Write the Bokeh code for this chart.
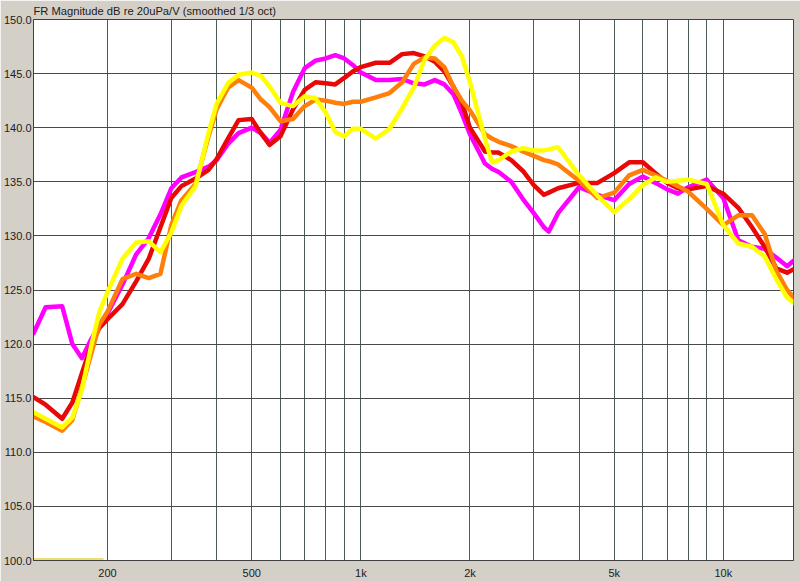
from bokeh.plotting import figure
from bokeh.models import Range1d, FixedTicker, PrintfTickFormatter
from bokeh.embed import file_html
from bokeh.resources import INLINE

title_text = "FR Magnitude dB re 20uPa/V (smoothed 1/3 oct)"

freq = [125, 135, 150, 160, 170, 180, 190, 200, 220, 240, 260, 280, 300, 320, 350, 380, 400, 430, 460,
        500, 530, 560, 600, 650, 700, 750, 800, 850, 900, 950, 1000, 1100, 1200, 1300, 1400, 1500, 1600,
        1700, 1800, 1900, 2000, 2200, 2300, 2400, 2600, 2800, 3000, 3200, 3300, 3500, 4000, 4500, 5000,
        5500, 6000, 6500, 7000, 7500, 8000, 9000, 10000, 11000, 12000, 13000, 14000, 15000, 16000]

magenta_db = [121.0, 123.4, 123.5, 120.0, 118.7, 120.4, 121.8, 122.8, 125.5, 128.3, 129.8, 132.0, 134.4,
              135.4, 135.9, 136.4, 137.0, 138.5, 139.5, 140.0, 139.5, 138.6, 139.8, 143.3, 145.5, 146.2,
              146.4, 146.7, 146.4, 145.8, 145.1, 144.4, 144.4, 144.5, 144.1, 144.0, 144.4, 144.0, 143.1,
              141.3, 139.4, 136.7, 136.2, 135.9, 135.0, 133.4, 132.1, 130.8, 130.4, 132.1, 134.5, 133.8,
              133.3, 134.8, 135.5, 134.9, 134.3, 133.9, 134.5, 135.2, 133.5, 129.6, 129.0, 128.8, 128.0,
              127.2, 128.0]

red_db = [115.1, 114.4, 113.1, 114.6, 117.3, 119.8, 121.5, 122.3, 123.7, 125.8, 127.9, 130.8, 133.5,
          134.6, 135.3, 136.1, 137.1, 139.0, 140.7, 140.8, 139.5, 138.4, 139.2, 141.7, 143.5, 144.2,
          144.1, 144.0, 144.6, 145.2, 145.6, 146.0, 146.0, 146.8, 146.9, 146.6, 146.1, 145.2, 143.8,
          142.3, 140.0, 137.8, 137.7, 137.7, 137.0, 136.0, 134.7, 133.8, 134.0, 134.4, 134.9, 134.9,
          135.8, 136.8, 136.8, 135.8, 134.9, 134.4, 134.3, 134.6, 133.9, 132.6, 130.8, 129.0, 127.0,
          126.6, 127.1]

orange_db = [113.3, 112.8, 112.0, 113.0, 116.0, 119.0, 121.8, 123.0, 126.0, 126.5, 126.1, 126.5, 131.0,
             133.3, 134.8, 139.2, 141.7, 143.7, 144.4, 143.7, 142.6, 141.9, 140.6, 140.8, 142.0, 142.6,
             142.5, 142.3, 142.2, 142.4, 142.4, 142.8, 143.2, 144.2, 145.9, 146.5, 146.4, 145.6, 143.8,
             142.5, 141.6, 139.4, 139.0, 138.7, 138.3, 137.8, 137.4, 137.0, 136.9, 136.6, 135.1, 133.5,
             134.0, 135.6, 136.1, 135.6, 135.1, 134.6, 134.1, 132.5, 131.0, 131.9, 131.9, 130.2, 126.8,
             125.0, 123.9]

yellow_db = [113.7, 113.1, 112.3, 113.2, 115.8, 119.7, 123.0, 124.8, 127.9, 129.4, 129.5, 128.5, 130.3,
             132.8, 134.6, 139.5, 142.2, 144.1, 144.9, 145.1, 144.8, 143.8, 142.3, 142.0, 142.9, 142.7,
             141.4, 139.6, 139.2, 139.9, 139.9, 139.0, 139.9, 141.8, 143.7, 146.3, 147.6, 148.3, 147.9,
             146.6, 144.2, 139.0, 136.8, 137.0, 137.8, 138.1, 137.9, 137.9, 138.0, 138.2, 135.6, 133.7,
             132.2, 133.4, 134.7, 135.4, 135.0, 135.1, 135.2, 134.8, 131.0, 129.3, 129.0, 128.1, 126.0,
             124.3, 123.6]

floor_freq = [125, 195]
floor_db = [100.15, 100.15]

series_colors = ["#ff00ff", "#e80808", "#ff7f0a", "#ffff00"]

x_label_ticks = [200, 500, 1000, 2000, 5000, 10000]
x_label_texts = ["200", "500", "1k", "2k", "5k", "10k"]
x_minor_ticks = [300, 400, 600, 700, 800, 900, 3000, 4000, 6000, 7000, 8000, 9000]
y_ticks = [100, 105, 110, 115, 120, 125, 130, 135, 140, 145, 150]

p = figure(width=800, height=581, x_axis_type="log",
           x_range=Range1d(125, 15620), y_range=Range1d(100, 150),
           output_backend="svg", toolbar_location=None,
           min_border_left=33, min_border_right=7, min_border_top=0, min_border_bottom=21,
           title=title_text)

p.background_fill_color = "white"
p.border_fill_color = "#d4d0c8"
p.outline_line_color = "#404040"

p.title.text_font = "Liberation Sans"
p.title.text_font_size = "11.2px"
p.title.text_font_style = "normal"
p.title.text_color = "#202020"
p.title.align = "left"
p.title.standoff = 5
p.title.offset = 0

p.xaxis.ticker = FixedTicker(ticks=x_label_ticks, minor_ticks=x_minor_ticks)
p.xaxis.major_label_overrides = dict(zip(x_label_ticks, x_label_texts))
p.yaxis.ticker = FixedTicker(ticks=y_ticks)
p.yaxis.formatter = PrintfTickFormatter(format="%.1f")

for ax in (p.xaxis, p.yaxis):
    ax.major_tick_line_color = None
    ax.minor_tick_line_color = None
    ax.major_tick_out = 0
    ax.major_tick_in = 0
    ax.minor_tick_out = 0
    ax.minor_tick_in = 0
    ax.axis_line_color = "#404040"
    ax.major_label_text_font = "Liberation Sans"
    ax.major_label_text_font_size = "11px"
    ax.major_label_text_color = "#202020"
p.xaxis.major_label_standoff = 6
p.yaxis.major_label_standoff = 2

p.xgrid.grid_line_color = "#4c5c54"
p.xgrid.minor_grid_line_color = "#4c5c54"
p.ygrid.grid_line_color = "#484848"

p.line(floor_freq, floor_db, line_color="#e8e070", line_width=2)
for vals, col in zip([magenta_db, red_db, orange_db, yellow_db], series_colors):
    p.line(freq, vals, line_color=col, line_width=4.5, line_join="round", line_cap="round")

open("out.html", "w").write(file_html(p, INLINE))
